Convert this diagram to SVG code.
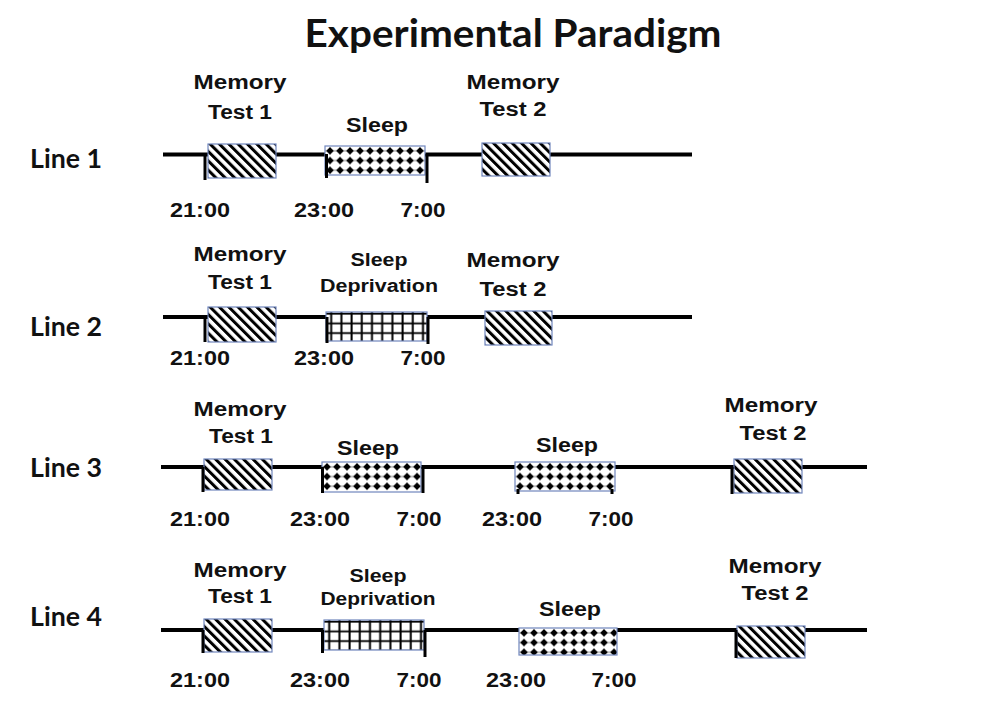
<svg xmlns="http://www.w3.org/2000/svg" width="988" height="716" viewBox="0 0 988 716">
<style>
.ln{stroke:#000;stroke-width:4;fill:none}
.tk{stroke:#000;stroke-width:3;fill:none}
.box{stroke:#7086bd;stroke-width:1.2}
.stripe{fill:url(#stripes)}
.dots{fill:url(#dots)}
.grid{fill:url(#grid)}
.t{font-family:"Liberation Sans",Arial,sans-serif;font-weight:bold;font-size:20px;text-anchor:middle;fill:#111}
.ts{font-size:18px}
.lbl{font-family:Lato,"Liberation Sans",sans-serif;font-weight:bold;font-size:26px;fill:#111}
.title{font-family:Lato,"Liberation Sans",sans-serif;font-weight:bold;font-size:39px;text-anchor:middle;fill:#111}
</style>
<defs>
<pattern id="stripes" patternUnits="userSpaceOnUse" width="6.6" height="6.6" patternTransform="rotate(-45)">
<rect width="6.6" height="6.6" fill="#fff"/>
<rect width="3" height="6.6" fill="#000"/>
</pattern>
<pattern id="dots" patternUnits="userSpaceOnUse" width="10" height="9.7">
<rect width="10" height="9.7" fill="#fff"/>
<line x1="0" y1="4.85" x2="10" y2="4.85" stroke="#000" stroke-width="0.5"/>
<polygon points="5,1.0 8.8,4.85 5,8.7 1.2,4.85" fill="#000"/>
</pattern>
<pattern id="grid" patternUnits="userSpaceOnUse" width="10.2" height="9.7">
<rect width="10.2" height="9.7" fill="#fff"/>
<rect x="4.2" y="0" width="2" height="9.7" fill="#000"/>
<rect x="0" y="0.8" width="10.2" height="1.8" fill="#000"/>
</pattern>
</defs>
<rect width="988" height="716" fill="#fff"/>

<text class="title" x="513" y="47" textLength="417" lengthAdjust="spacingAndGlyphs">Experimental Paradigm</text>

<g id="labels">
<text class="lbl" x="30" y="168" textLength="72" lengthAdjust="spacingAndGlyphs">Line 1</text>
<text class="lbl" x="30" y="336" textLength="72" lengthAdjust="spacingAndGlyphs">Line 2</text>
<text class="lbl" x="30" y="477" textLength="72" lengthAdjust="spacingAndGlyphs">Line 3</text>
<text class="lbl" x="30" y="626" textLength="72" lengthAdjust="spacingAndGlyphs">Line 4</text>
</g>

<g id="connectors">
<line class="ln" x1="163" y1="154.5" x2="692" y2="154.5"/>
<line class="ln" x1="163" y1="317" x2="692" y2="317"/>
<line class="ln" x1="161" y1="467" x2="867" y2="467"/>
<line class="ln" x1="161" y1="630" x2="867" y2="630"/>
</g>

<!-- Line 1 -->
<g id="l1-mt1">
<rect class="box stripe" transform="translate(208,144)" width="68" height="34"/>
<text class="t" x="240" y="89" textLength="93" lengthAdjust="spacingAndGlyphs">Memory</text>
<text class="t" x="240" y="119" textLength="64" lengthAdjust="spacingAndGlyphs">Test 1</text>
</g>
<g id="l1-sleep">
<rect class="box dots" transform="translate(325,146)" width="100" height="29"/>
<text class="t" x="377" y="132" textLength="62" lengthAdjust="spacingAndGlyphs">Sleep</text>
</g>
<g id="l1-mt2">
<rect class="box stripe" transform="translate(482,143)" width="68" height="33"/>
<text class="t" x="513" y="89" textLength="93" lengthAdjust="spacingAndGlyphs">Memory</text>
<text class="t" x="513" y="116" textLength="67" lengthAdjust="spacingAndGlyphs">Test 2</text>
</g>

<!-- Line 2 -->
<g id="l2-mt1">
<rect class="box stripe" transform="translate(208,307)" width="68" height="35"/>
<text class="t" x="240" y="261" textLength="93" lengthAdjust="spacingAndGlyphs">Memory</text>
<text class="t" x="240" y="289" textLength="64" lengthAdjust="spacingAndGlyphs">Test 1</text>
</g>
<g id="l2-sd">
<rect class="box grid" transform="translate(326,312)" width="101" height="29"/>
<text class="t ts" x="379" y="266" textLength="57" lengthAdjust="spacingAndGlyphs">Sleep</text>
<text class="t ts" x="379" y="292" textLength="118" lengthAdjust="spacingAndGlyphs">Deprivation</text>
</g>
<g id="l2-mt2">
<rect class="box stripe" transform="translate(485,311)" width="67" height="34"/>
<text class="t" x="513" y="267" textLength="93" lengthAdjust="spacingAndGlyphs">Memory</text>
<text class="t" x="513" y="296" textLength="67" lengthAdjust="spacingAndGlyphs">Test 2</text>
</g>

<!-- Line 3 -->
<g id="l3-mt1">
<rect class="box stripe" transform="translate(204,459)" width="68" height="31"/>
<text class="t" x="240" y="416" textLength="93" lengthAdjust="spacingAndGlyphs">Memory</text>
<text class="t" x="241" y="443" textLength="64" lengthAdjust="spacingAndGlyphs">Test 1</text>
</g>
<g id="l3-sleep1">
<rect class="box dots" transform="translate(322,462)" width="99" height="30"/>
<text class="t" x="368" y="455" textLength="62" lengthAdjust="spacingAndGlyphs">Sleep</text>
</g>
<g id="l3-sleep2">
<rect class="box dots" transform="translate(515,462)" width="100" height="29"/>
<text class="t" x="567" y="452" textLength="62" lengthAdjust="spacingAndGlyphs">Sleep</text>
</g>
<g id="l3-mt2">
<rect class="box stripe" transform="translate(734,459)" width="68" height="34"/>
<text class="t" x="771" y="412" textLength="93" lengthAdjust="spacingAndGlyphs">Memory</text>
<text class="t" x="773" y="440" textLength="67" lengthAdjust="spacingAndGlyphs">Test 2</text>
</g>

<!-- Line 4 -->
<g id="l4-mt1">
<rect class="box stripe" transform="translate(204,619)" width="68" height="33"/>
<text class="t" x="240" y="577" textLength="93" lengthAdjust="spacingAndGlyphs">Memory</text>
<text class="t" x="240" y="603" textLength="64" lengthAdjust="spacingAndGlyphs">Test 1</text>
</g>
<g id="l4-sd">
<rect class="box grid" transform="translate(324,620)" width="100" height="30"/>
<text class="t ts" x="378" y="582" textLength="57" lengthAdjust="spacingAndGlyphs">Sleep</text>
<text class="t ts" x="378" y="605" textLength="115" lengthAdjust="spacingAndGlyphs">Deprivation</text>
</g>
<g id="l4-sleep2">
<rect class="box dots" transform="translate(519,628)" width="98" height="27"/>
<text class="t" x="570" y="616" textLength="62" lengthAdjust="spacingAndGlyphs">Sleep</text>
</g>
<g id="l4-mt2">
<rect class="box stripe" transform="translate(737,626)" width="68" height="32"/>
<text class="t" x="775" y="573" textLength="93" lengthAdjust="spacingAndGlyphs">Memory</text>
<text class="t" x="775" y="600" textLength="67" lengthAdjust="spacingAndGlyphs">Test 2</text>
</g>

<g id="ticks">
<line class="tk" x1="205" y1="154" x2="205" y2="180"/>
<line class="tk" x1="326.5" y1="154" x2="326.5" y2="178"/>
<line class="tk" x1="427" y1="154" x2="427" y2="183"/>
<line class="tk" x1="205" y1="317" x2="205" y2="342"/>
<line class="tk" x1="327" y1="317" x2="327" y2="343"/>
<line class="tk" x1="428" y1="317" x2="428" y2="344"/>
<line class="tk" x1="203" y1="467" x2="203" y2="492"/>
<line class="tk" x1="322.5" y1="467" x2="322.5" y2="493"/>
<line class="tk" x1="423" y1="467" x2="423" y2="493"/>
<line class="tk" x1="518" y1="489" x2="518" y2="494"/>
<line class="tk" x1="612" y1="489" x2="612" y2="494"/>
<line class="tk" x1="732" y1="467" x2="732" y2="494"/>
<line class="tk" x1="203" y1="630" x2="203" y2="653"/>
<line class="tk" x1="322.5" y1="630" x2="322.5" y2="653"/>
<line class="tk" x1="425" y1="630" x2="425" y2="657"/>
<line class="tk" x1="736" y1="630" x2="736" y2="658"/>
</g>

<g id="times">
<text class="t" x="200" y="217" textLength="60" lengthAdjust="spacingAndGlyphs">21:00</text>
<text class="t" x="324" y="217" textLength="60" lengthAdjust="spacingAndGlyphs">23:00</text>
<text class="t" x="423" y="217" textLength="45" lengthAdjust="spacingAndGlyphs">7:00</text>
<text class="t" x="200" y="365" textLength="60" lengthAdjust="spacingAndGlyphs">21:00</text>
<text class="t" x="324" y="365" textLength="60" lengthAdjust="spacingAndGlyphs">23:00</text>
<text class="t" x="423" y="365" textLength="45" lengthAdjust="spacingAndGlyphs">7:00</text>
<text class="t" x="200" y="526" textLength="60" lengthAdjust="spacingAndGlyphs">21:00</text>
<text class="t" x="320" y="526" textLength="60" lengthAdjust="spacingAndGlyphs">23:00</text>
<text class="t" x="419" y="526" textLength="45" lengthAdjust="spacingAndGlyphs">7:00</text>
<text class="t" x="512" y="526" textLength="60" lengthAdjust="spacingAndGlyphs">23:00</text>
<text class="t" x="611" y="526" textLength="45" lengthAdjust="spacingAndGlyphs">7:00</text>
<text class="t" x="200" y="687" textLength="60" lengthAdjust="spacingAndGlyphs">21:00</text>
<text class="t" x="320" y="687" textLength="60" lengthAdjust="spacingAndGlyphs">23:00</text>
<text class="t" x="419" y="687" textLength="45" lengthAdjust="spacingAndGlyphs">7:00</text>
<text class="t" x="516" y="687" textLength="60" lengthAdjust="spacingAndGlyphs">23:00</text>
<text class="t" x="614" y="687" textLength="45" lengthAdjust="spacingAndGlyphs">7:00</text>
</g>
</svg>
